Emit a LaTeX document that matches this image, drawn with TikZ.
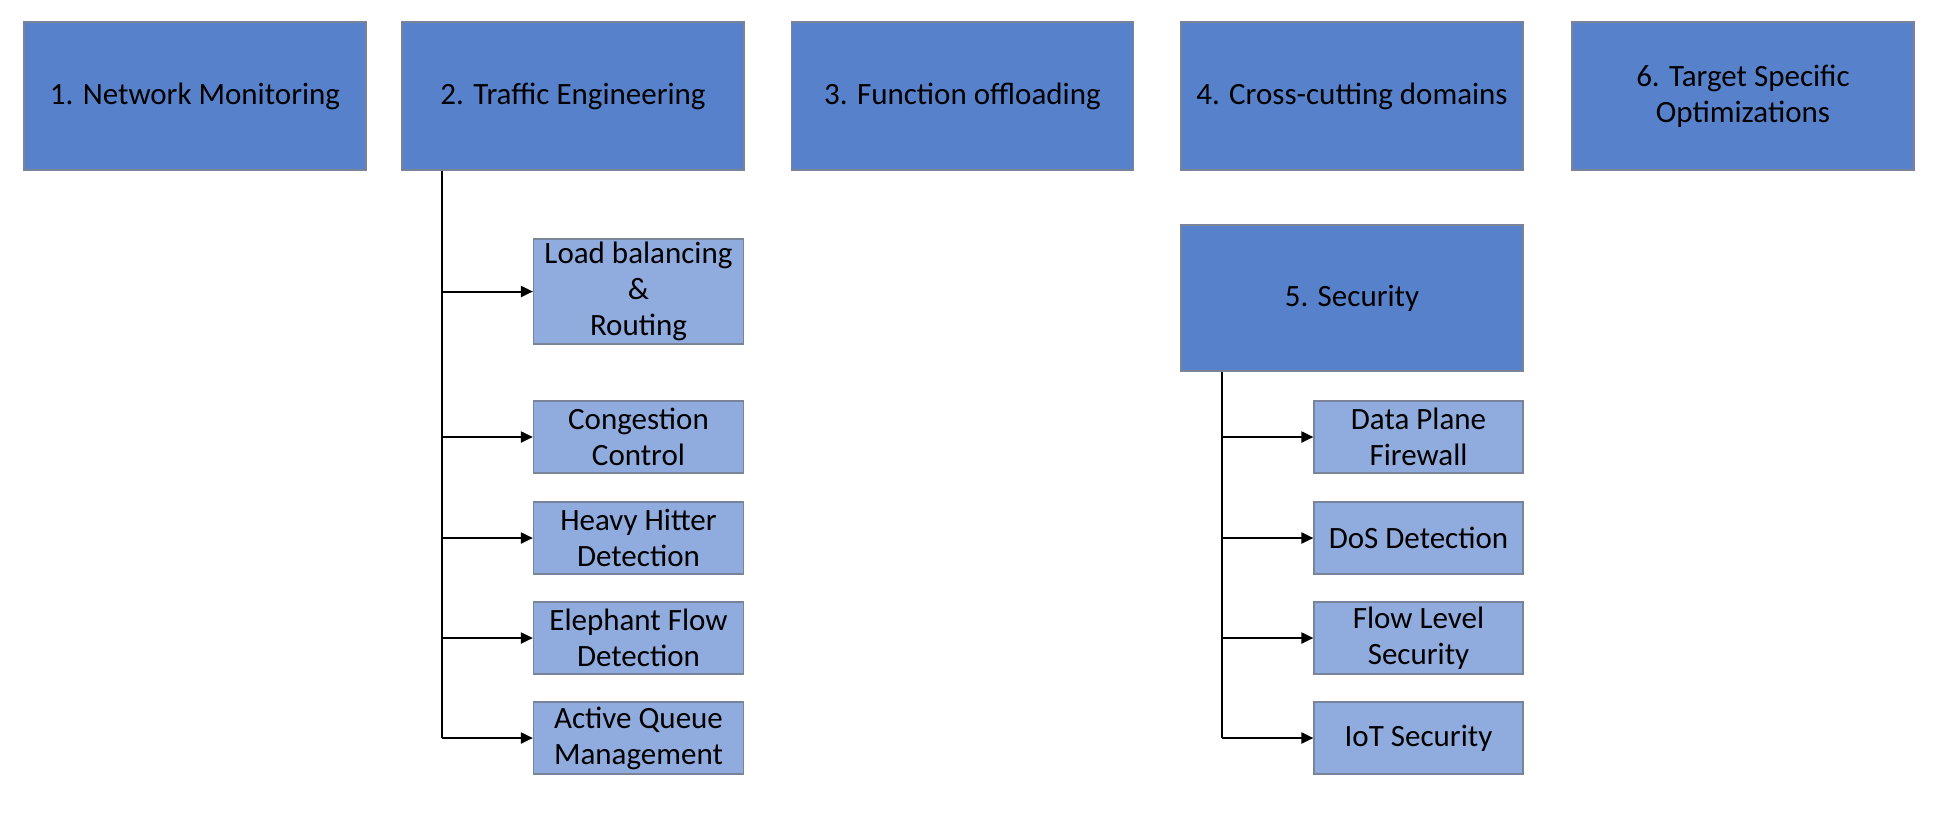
\documentclass[tikz,border=0pt]{standalone}
\usepackage{fontspec}
\setmainfont{Carlito}
\usetikzlibrary{arrows.meta}
\definecolor{topblue}{HTML}{5782CB}
\definecolor{subblue}{HTML}{90ABDD}
\definecolor{edgegray}{HTML}{7A8499}
\begin{document}
\begin{tikzpicture}[x=0.5pt,y=-0.5pt,
  topbox/.style={draw=edgegray,line width=0.6pt,fill=topblue,minimum width=171pt,minimum height=74pt,align=center,inner sep=0pt,font=\fontsize{15.5}{18}\selectfont},
  subbox/.style={draw=edgegray,line width=0.6pt,fill=subblue,minimum width=105pt,minimum height=36pt,align=center,inner sep=0pt,font=\fontsize{15.5}{18}\selectfont},
  conn/.style={line width=1pt,draw=black},
  arr/.style={conn,-{Triangle[length=6pt,width=5.5pt]}}]
\useasboundingbox (0,0) rectangle (1945,816);
\fill[white] (0,0) rectangle (1945,816);
% top row
\node[topbox] (b1) at (195,96) {1. Network Monitoring};
\node[topbox] (b2) at (573,96) {2. Traffic Engineering};
\node[topbox] (b3) at (962.5,96) {3. Function offloading};
\node[topbox] (b4) at (1352,96) {4. Cross-cutting domains};
\node[topbox] (b6) at (1743,96) {6. Target Specific\\Optimizations};
\node[topbox,minimum height=73pt] (b5) at (1352,298) {5. Security};
% traffic engineering subs
\node[subbox,minimum height=52.5pt] (t1) at (638.5,291.5) {Load balancing\\\&\\Routing};
\node[subbox] (t2) at (638.5,437) {Congestion\\Control};
\node[subbox] (t3) at (638.5,538) {Heavy Hitter\\Detection};
\node[subbox] (t4) at (638.5,638) {Elephant Flow\\Detection};
\node[subbox] (t5) at (638.5,738) {Active Queue\\Management};
% security subs
\node[subbox,minimum width=104.5pt] (s1) at (1418.5,437) {Data Plane\\Firewall};
\node[subbox,minimum width=104.5pt] (s2) at (1418.5,538) {DoS Detection};
\node[subbox,minimum width=104.5pt] (s3) at (1418.5,638) {Flow Level\\Security};
\node[subbox,minimum width=104.5pt] (s4) at (1418.5,738) {IoT Security};
% trunks
\coordinate (tx) at (442,0);
\coordinate (sx) at (1222,0);
\draw[conn] (tx |- b2.south) -- (tx |- t5.west);
\draw[conn] (sx |- b5.south) -- (sx |- s4.west);
\foreach \n in {t1,t2,t3,t4,t5}{\draw[arr] (tx |- \n.west) -- (\n.west);}
\foreach \n in {s1,s2,s3,s4}{\draw[arr] (sx |- \n.west) -- (\n.west);}
\end{tikzpicture}
\end{document}
